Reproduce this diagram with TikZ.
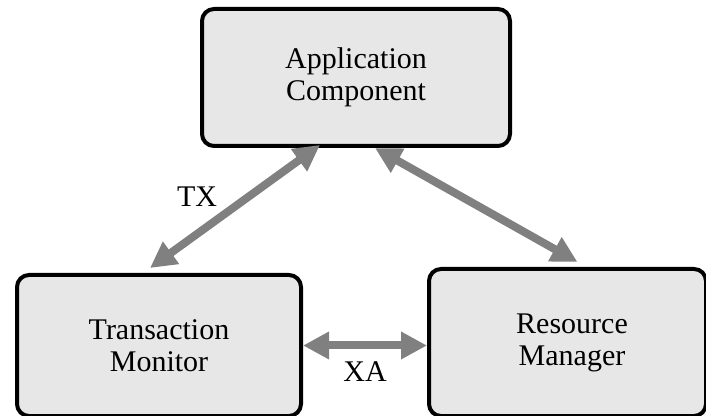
\documentclass[tikz,border=0pt]{standalone}
\usepackage{fontspec}
\setmainfont{Liberation Serif}
\usetikzlibrary{arrows.meta,calc}
\definecolor{boxfill}{RGB}{231,231,231}
\definecolor{arrowgray}{RGB}{128,128,128}
\tikzset{
  compbox/.style={draw=black, line width=2pt, fill=boxfill, rounded corners=6pt,
    align=center, inner sep=0pt, font=\fontsize{15}{16}\selectfont},
  dblarrow/.style={draw=arrowgray, line width=4pt,
    {Triangle[length=13pt,width=13pt]}-{Triangle[length=13pt,width=13pt]}},
  lbl/.style={font=\fontsize{15}{16}\selectfont, inner sep=0pt}
}
\begin{document}
\begin{tikzpicture}[x=0.5pt,y=-0.5pt]
\useasboundingbox (0,0) rectangle (706,416);
\node[compbox, minimum width=154pt, minimum height=68.5pt] (ac) at (356,77.5) {Application\\Component};
\node[compbox, minimum width=142pt, minimum height=70.5pt] (tm) at (159,345.5) {Transaction\\Monitor};
\node[compbox, minimum width=138.5pt, minimum height=73.5pt] (rm) at (567.5,342.5) {\hspace{4.5pt}Resource\\\hspace{4.5pt}Manager};
\draw[dblarrow] ([xshift=-4.5pt,yshift=2.5pt]tm.north) -- ([xshift=-18pt,yshift=1.5pt]ac.south);
\draw[dblarrow] ([xshift=9.5pt]ac.south) -- ([xshift=5pt,yshift=2.5pt]rm.north);
\draw[dblarrow] ([yshift=0pt]tm.east) -- ([yshift=0pt]tm.east -| rm.west);
\node[lbl] (tx) at (197,197) {TX};
\node[lbl] (xa) at (365,372) {XA};
\end{tikzpicture}
\end{document}
